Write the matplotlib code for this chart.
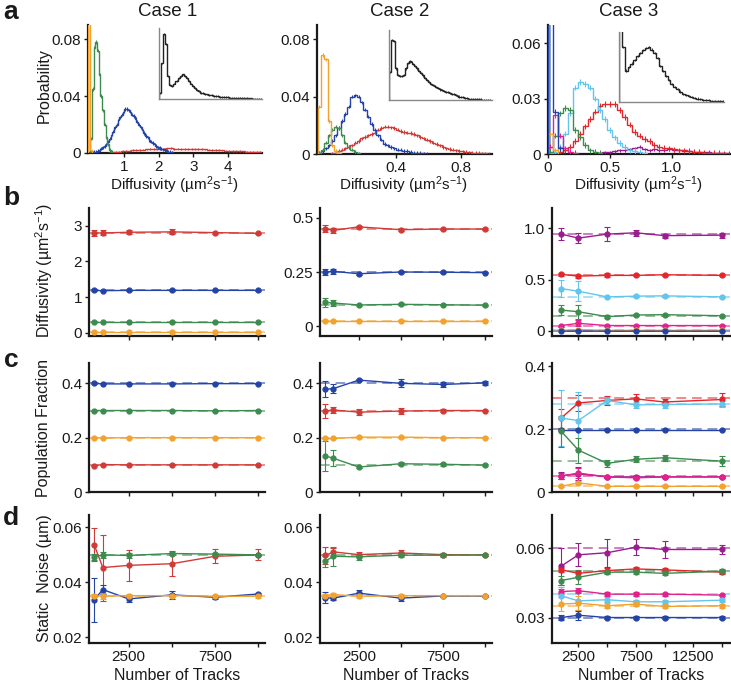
import numpy as np
import matplotlib
matplotlib.use('Agg')
import matplotlib.pyplot as plt
from matplotlib.colors import to_rgb

plt.rcParams['font.family'] = ['Liberation Sans', 'DejaVu Sans']
plt.rcParams['mathtext.fontset'] = 'custom'
plt.rcParams['mathtext.rm'] = 'Liberation Sans'
plt.rcParams['mathtext.it'] = 'Liberation Sans:italic'
plt.rcParams['mathtext.bf'] = 'Liberation Sans:bold'
plt.rcParams['mathtext.default'] = 'regular'

# ---------------- colours ----------------
COL = {'orange': '#F2A22E', 'green': '#3D8B4E', 'blue': '#2443A6', 'red': '#D13B37',
       'cyan': '#62C6EC', 'magenta': '#E2218B', 'purple': '#9B1C8F'}
COL3 = dict(COL, red='#E3262B')

# ---------------- row a: histograms ----------------
# case 1 (bin starts / widths in diffusivity units)
a1_orange_start, a1_orange_w = -0.05, 0.05
a1_orange = [0.25, 0.002]
a1_green_start, a1_green_w = 0.0, 0.05
a1_green = [0.010, 0.045, 0.074, 0.078, 0.072, 0.055, 0.040, 0.030, 0.020, 0.011, 0.006, 0.002, 0.001]
a1_blue_start, a1_blue_w = 0.0, 0.05
a1_blue = [0.0002, 0.0003, 0.0006, 0.001, 0.0015, 0.002, 0.003, 0.004, 0.005, 0.006, 0.008, 0.010,
           0.013, 0.015, 0.018, 0.020, 0.023, 0.025, 0.027, 0.029, 0.031, 0.031, 0.030, 0.029,
           0.027, 0.026, 0.024, 0.022, 0.020, 0.018, 0.016, 0.014, 0.012, 0.011, 0.009, 0.008,
           0.007, 0.006, 0.005, 0.004, 0.0035, 0.003, 0.0025, 0.002, 0.0015, 0.001, 0.0008, 0.0005]
a1_red_start, a1_red_w = 0.5, 0.1
a1_red = [0.0003, 0.0005, 0.0007, 0.001, 0.0012, 0.0015, 0.0017, 0.002, 0.002, 0.0022, 0.0024,
          0.0025, 0.0026, 0.0028, 0.0027, 0.003, 0.0028, 0.0032, 0.0035, 0.003, 0.0031, 0.0029,
          0.003, 0.0028, 0.0027, 0.0028, 0.0026, 0.0028, 0.0025, 0.0024, 0.0022, 0.0021, 0.002,
          0.0018, 0.0017, 0.0016, 0.0014, 0.0013, 0.0012, 0.0011, 0.001, 0.0009, 0.0008, 0.0008,
          0.0007, 0.0006]
a1_total_start, a1_total_w = 0.0, 0.1
a1_total = [0.10, 0.55, 1.0, 0.85, 0.35, 0.22, 0.20, 0.24, 0.28, 0.32, 0.36, 0.38, 0.36, 0.32,
            0.28, 0.24, 0.20, 0.17, 0.14, 0.12, 0.10, 0.09, 0.08, 0.07, 0.06, 0.055, 0.05, 0.045,
            0.04, 0.035, 0.03, 0.03, 0.025, 0.025, 0.02, 0.02, 0.018, 0.016, 0.014, 0.012, 0.012,
            0.01, 0.01, 0.008, 0.008, 0.007, 0.006, 0.006, 0.005, 0.005]

# case 2
a2_orange_start, a2_orange_w = -0.08, 0.02
a2_orange = [0.033, 0.069, 0.066, 0.023, 0.006, 0.002, 0.001]
a2_green_start, a2_green_w = -0.08, 0.02
a2_green = [0.001, 0.003, 0.008, 0.013, 0.017, 0.019, 0.018, 0.013, 0.008, 0.005, 0.003, 0.0015, 0.0005]
a2_blue_start, a2_blue_w = -0.08, 0.02
a2_blue = [0.001, 0.002, 0.004, 0.006, 0.009, 0.013, 0.018, 0.023, 0.028, 0.033, 0.040, 0.041,
           0.040, 0.036, 0.031, 0.026, 0.021, 0.017, 0.013, 0.010, 0.007, 0.006, 0.005, 0.004,
           0.003, 0.003, 0.002, 0.002, 0.0015, 0.001, 0.001, 0.0008, 0.0005, 0.0003]
a2_red_start, a2_red_w = 0.0, 0.02
a2_red = [0.0005, 0.001, 0.002, 0.003, 0.004, 0.005, 0.006, 0.008, 0.009, 0.011, 0.012, 0.013,
          0.014, 0.015, 0.017, 0.018, 0.019, 0.019, 0.0185, 0.018, 0.017, 0.016, 0.0155, 0.015,
          0.0145, 0.014, 0.013, 0.012, 0.011, 0.010, 0.009, 0.008, 0.007, 0.006, 0.005, 0.004,
          0.0035, 0.003, 0.0025, 0.002, 0.0018, 0.0015, 0.0012, 0.001, 0.0008, 0.0006, 0.0005,
          0.0004, 0.0003]
a2_total_start, a2_total_w = -0.08, 0.02
a2_total = [0.40, 0.86, 0.84, 0.45, 0.36, 0.34, 0.34, 0.36, 0.45, 0.53, 0.55, 0.54, 0.52, 0.48,
            0.45, 0.42, 0.38, 0.35, 0.31, 0.29, 0.26, 0.23, 0.21, 0.20, 0.18, 0.17, 0.15, 0.14,
            0.13, 0.12, 0.11, 0.10, 0.09, 0.08, 0.07, 0.06, 0.05, 0.045, 0.04, 0.03, 0.025, 0.02,
            0.015, 0.012, 0.01, 0.01, 0.008, 0.008, 0.006, 0.005, 0.005, 0.004, 0.004]

# case 3
a3_w = 0.04
a3_blue_start = 0.0
a3_blue = [0.2, 0.023, 0.003]
a3_orange_start = 0.0
a3_orange = [0.011, 0.002]
a3_magenta_start = 0.0
a3_magenta = [0.004, 0.021, 0.010, 0.003, 0.001, 0.0005]
a3_green_start = 0.0
a3_green = [0.001, 0.010, 0.022, 0.025, 0.024, 0.013, 0.009, 0.005, 0.002, 0.001, 0.0005]
a3_cyan_start = 0.0
a3_cyan = [0.0005, 0.001, 0.004, 0.011, 0.022, 0.036, 0.039, 0.038, 0.036, 0.030, 0.024, 0.019,
           0.013, 0.009, 0.006, 0.004, 0.002, 0.0015, 0.001, 0.0005]
a3_red_start = 0.0
a3_red = [0.0003, 0.0005, 0.001, 0.002, 0.004, 0.007, 0.011, 0.015, 0.019, 0.023, 0.026, 0.027,
          0.027, 0.027, 0.024, 0.020, 0.016, 0.012, 0.010, 0.008, 0.007, 0.005, 0.004, 0.0035,
          0.003, 0.0025, 0.002, 0.002, 0.0015, 0.0012, 0.001, 0.0008, 0.0006, 0.0005, 0.0004,
          0.0003, 0.0002]
a3_purple_start = 0.4
a3_purple = [0.0005, 0.001, 0.001, 0.0015, 0.002, 0.002, 0.0025, 0.003, 0.004, 0.0025, 0.002,
             0.0025, 0.002, 0.002, 0.0025, 0.002, 0.002, 0.0015, 0.0015, 0.001, 0.0012, 0.001,
             0.001, 0.0008, 0.0006, 0.0005, 0.0004]
a3_total_start = 0.0
a3_total = [1.2, 0.78, 0.45, 0.50, 0.55, 0.60, 0.66, 0.70, 0.74, 0.77, 0.79, 0.75, 0.70, 0.63,
            0.52, 0.44, 0.37, 0.31, 0.26, 0.22, 0.18, 0.15, 0.12, 0.10, 0.08, 0.07, 0.06, 0.05,
            0.04, 0.035, 0.03, 0.025, 0.02, 0.02, 0.015, 0.015, 0.01]

hist_err = [0.0012, 0.0012, 0.0015]

# ---------------- rows b-d: parameter estimates vs number of tracks ----------------
tracks_12 = [500, 1000, 2500, 5000, 7500, 10000]
tracks_3 = [1000, 2500, 5000, 7500, 10000, 15000]

# row b: diffusivity
b1_val = {'red': [2.80, 2.80, 2.82, 2.83, 2.81, 2.79], 'blue': [1.19, 1.18, 1.19, 1.19, 1.19, 1.19],
          'green': [0.30, 0.30, 0.30, 0.30, 0.30, 0.30], 'orange': [0.02, 0.02, 0.02, 0.02, 0.02, 0.02]}
b1_err = {'red': [0.08, 0.07, 0.05, 0.07, 0.03, 0.02], 'blue': [0.03, 0.02, 0.01, 0.01, 0.01, 0.01],
          'green': [0.01, 0.01, 0.01, 0.01, 0.01, 0.01], 'orange': [0.005, 0.005, 0.005, 0.005, 0.005, 0.005]}
b1_true = {'red': 2.8, 'blue': 1.2, 'green': 0.3, 'orange': 0.02}

b2_val = {'red': [0.450, 0.442, 0.458, 0.445, 0.448, 0.448], 'blue': [0.250, 0.253, 0.242, 0.250, 0.249, 0.247],
          'green': [0.110, 0.107, 0.098, 0.101, 0.099, 0.097], 'orange': [0.025, 0.025, 0.025, 0.025, 0.025, 0.025]}
b2_err = {'red': [0.015, 0.010, 0.006, 0.004, 0.004, 0.003], 'blue': [0.015, 0.010, 0.005, 0.004, 0.004, 0.003],
          'green': [0.020, 0.012, 0.005, 0.004, 0.003, 0.003], 'orange': [0.003, 0.003, 0.003, 0.003, 0.003, 0.003]}
b2_true = {'red': 0.45, 'blue': 0.25, 'green': 0.1, 'orange': 0.025}

b3_val = {'purple': [0.945, 0.906, 0.945, 0.958, 0.930, 0.935], 'red': [0.552, 0.535, 0.542, 0.542, 0.548, 0.542],
          'cyan': [0.413, 0.387, 0.332, 0.339, 0.342, 0.332], 'green': [0.203, 0.187, 0.139, 0.155, 0.158, 0.148],
          'magenta': [0.052, 0.074, 0.052, 0.052, 0.052, 0.052], 'orange': [0.005, 0.012, 0.005, 0.005, 0.005, 0.005],
          'blue': [-0.003, -0.002, -0.003, -0.003, -0.003, -0.003]}
b3_err = {'purple': [0.06, 0.05, 0.07, 0.03, 0.02, 0.025], 'red': [0.015, 0.015, 0.02, 0.01, 0.01, 0.01],
          'cyan': [0.08, 0.10, 0.012, 0.01, 0.01, 0.01], 'green': [0.05, 0.07, 0.012, 0.01, 0.008, 0.008],
          'magenta': [0.01, 0.03, 0.005, 0.005, 0.004, 0.004], 'orange': [0.003, 0.01, 0.003, 0.003, 0.003, 0.003],
          'blue': [0.003, 0.003, 0.002, 0.002, 0.002, 0.002]}
b3_true = {'purple': 0.95, 'red': 0.55, 'cyan': 0.33, 'green': 0.15, 'magenta': 0.05, 'orange': 0.01, 'blue': 0.0}

# row c: population fraction
c1_val = {'blue': [0.400, 0.398, 0.398, 0.398, 0.399, 0.399], 'green': [0.300, 0.300, 0.300, 0.300, 0.299, 0.300],
          'orange': [0.200, 0.199, 0.200, 0.200, 0.200, 0.200], 'red': [0.097, 0.101, 0.100, 0.100, 0.100, 0.100]}
c1_err = {'blue': [0.002, 0.002, 0.002, 0.001, 0.001, 0.001], 'green': [0.002, 0.002, 0.002, 0.001, 0.001, 0.001],
          'orange': [0.002, 0.002, 0.002, 0.001, 0.001, 0.001], 'red': [0.002, 0.002, 0.002, 0.001, 0.001, 0.001]}
c1_true = {'blue': 0.4, 'green': 0.3, 'orange': 0.2, 'red': 0.1}

c2_val = {'blue': [0.378, 0.381, 0.412, 0.400, 0.396, 0.402], 'red': [0.298, 0.302, 0.294, 0.298, 0.300, 0.300],
          'orange': [0.197, 0.197, 0.202, 0.202, 0.200, 0.200], 'green': [0.133, 0.124, 0.092, 0.104, 0.102, 0.099]}
c2_err = {'blue': [0.030, 0.015, 0.003, 0.015, 0.010, 0.008], 'red': [0.025, 0.012, 0.010, 0.010, 0.004, 0.003],
          'orange': [0.003, 0.002, 0.002, 0.002, 0.002, 0.002], 'green': [0.055, 0.030, 0.004, 0.005, 0.005, 0.004]}
c2_true = {'blue': 0.4, 'red': 0.3, 'orange': 0.2, 'green': 0.1}

c3_val = {'red': [0.235, 0.283, 0.291, 0.296, 0.286, 0.294], 'cyan': [0.235, 0.227, 0.291, 0.277, 0.278, 0.280],
          'blue': [0.198, 0.198, 0.198, 0.198, 0.198, 0.198], 'green': [0.193, 0.133, 0.091, 0.104, 0.109, 0.098],
          'purple': [0.052, 0.058, 0.048, 0.048, 0.048, 0.048], 'magenta': [0.050, 0.060, 0.048, 0.045, 0.048, 0.048],
          'orange': [0.018, 0.029, 0.018, 0.018, 0.018, 0.018]}
c3_err = {'red': [0.030, 0.025, 0.015, 0.015, 0.010, 0.020], 'cyan': [0.090, 0.090, 0.010, 0.010, 0.010, 0.010],
          'blue': [0.002, 0.002, 0.001, 0.001, 0.001, 0.001], 'green': [0.050, 0.040, 0.010, 0.010, 0.010, 0.015],
          'purple': [0.012, 0.020, 0.004, 0.004, 0.004, 0.004], 'magenta': [0.010, 0.015, 0.004, 0.004, 0.004, 0.004],
          'orange': [0.003, 0.005, 0.002, 0.002, 0.002, 0.002]}
c3_true = {'red': 0.3, 'cyan': 0.28, 'blue': 0.2, 'green': 0.1, 'purple': 0.05, 'magenta': 0.05, 'orange': 0.02}

# row d: static noise
d1_val = {'red': [0.0537, 0.0454, 0.0462, 0.0468, 0.0495, 0.0500], 'green': [0.0493, 0.0500, 0.0498, 0.0505, 0.0503, 0.0500],
          'blue': [0.0337, 0.0374, 0.0340, 0.0355, 0.0346, 0.0358], 'orange': [0.0352, 0.0350, 0.0352, 0.0352, 0.0350, 0.0350]}
d1_err = {'red': [0.0060, 0.0120, 0.0055, 0.0045, 0.0025, 0.0020], 'green': [0.0010, 0.0010, 0.0008, 0.0006, 0.0005, 0.0005],
          'blue': [0.0080, 0.0015, 0.0010, 0.0015, 0.0005, 0.0005], 'orange': [0.0005, 0.0010, 0.0005, 0.0005, 0.0005, 0.0005]}
d1_true = {'red': 0.05, 'green': 0.05, 'blue': 0.035, 'orange': 0.035}

d2_val = {'red': [0.0498, 0.0511, 0.0501, 0.0507, 0.0501, 0.0500], 'green': [0.0477, 0.0495, 0.0493, 0.0499, 0.0499, 0.0500],
          'blue': [0.0344, 0.0343, 0.0361, 0.0343, 0.0351, 0.0351], 'orange': [0.0352, 0.0356, 0.0350, 0.0352, 0.0352, 0.0352]}
d2_err = {'red': [0.0030, 0.0015, 0.0010, 0.0010, 0.0005, 0.0005], 'green': [0.0020, 0.0035, 0.0010, 0.0007, 0.0005, 0.0005],
          'blue': [0.0020, 0.0005, 0.0010, 0.0010, 0.0003, 0.0003], 'orange': [0.0005, 0.0005, 0.0005, 0.0005, 0.0003, 0.0003]}
d2_true = {'red': 0.05, 'green': 0.05, 'blue': 0.035, 'orange': 0.035}

d3_val = {'purple': [0.0522, 0.0571, 0.0580, 0.0604, 0.0594, 0.0594], 'red': [0.0506, 0.0491, 0.0503, 0.0510, 0.0506, 0.0496],
          'green': [0.0460, 0.0474, 0.0496, 0.0496, 0.0491, 0.0500], 'magenta': [0.0412, 0.0416, 0.0401, 0.0401, 0.0401, 0.0397],
          'cyan': [0.0394, 0.0372, 0.0377, 0.0368, 0.0368, 0.0375], 'orange': [0.0358, 0.0362, 0.0351, 0.0358, 0.0348, 0.0351],
          'blue': [0.0300, 0.0310, 0.0300, 0.0300, 0.0300, 0.0300]}
d3_err = {'purple': [0.0080, 0.0050, 0.0060, 0.0035, 0.0035, 0.0020], 'red': [0.0010, 0.0010, 0.0010, 0.0008, 0.0008, 0.0008],
          'green': [0.0020, 0.0030, 0.0010, 0.0008, 0.0008, 0.0008], 'magenta': [0.0010, 0.0010, 0.0008, 0.0008, 0.0006, 0.0006],
          'cyan': [0.0040, 0.0040, 0.0010, 0.0008, 0.0008, 0.0008], 'orange': [0.0030, 0.0030, 0.0010, 0.0008, 0.0008, 0.0008],
          'blue': [0.0010, 0.0020, 0.0005, 0.0005, 0.0005, 0.0005]}
d3_true = {'purple': 0.06, 'red': 0.05, 'green': 0.05, 'magenta': 0.04, 'cyan': 0.04, 'orange': 0.035, 'blue': 0.03}

# ---------------- figure ----------------
W, H = 731, 684
fig = plt.figure(figsize=(W / 100, H / 100), dpi=100)


def add_ax(x0, y0, x1, y1):
    return fig.add_axes([x0 / W, 1 - y1 / H, (x1 - x0) / W, (y1 - y0) / H])


def style(ax):
    for s in ('top', 'right'):
        ax.spines[s].set_visible(False)
    for s in ('left', 'bottom'):
        ax.spines[s].set_linewidth(1.6)
        ax.spines[s].set_color('#1a1a1a')
    ax.tick_params(direction='out', length=3, width=1, labelsize=11, colors='#1a1a1a', pad=2)
    ax.set_facecolor('none')


def lighten(c, f=0.45):
    r, g, b = to_rgb(c)
    return (r + (1 - r) * f, g + (1 - g) * f, b + (1 - b) * f)


def draw_hist(ax, start, width, vals, color, err):
    v = np.asarray(vals, dtype=float)
    edges = start + width * np.arange(len(v) + 1)
    ax.stairs(v, edges, color=color, lw=1.0, zorder=3)
    centers = 0.5 * (edges[:-1] + edges[1:])
    ax.errorbar(centers, v, yerr=err, fmt='none', ecolor=color, elinewidth=0.8, capsize=0, zorder=3)


def draw_inset(x0, y0, x1, y1, start, width, vals, xlim, ylim):
    ia = add_ax(x0, y0, x1, y1)
    v = np.asarray(vals, dtype=float)
    edges = start + width * np.arange(len(v) + 1)
    ia.stairs(v, edges, color='#222222', lw=1.0)
    centers = 0.5 * (edges[:-1] + edges[1:])
    ia.errorbar(centers, v, yerr=0.015, fmt='none', ecolor='#222222', elinewidth=0.6)
    ia.set_xlim(*xlim)
    ia.set_ylim(*ylim)
    for s in ('top', 'right'):
        ia.spines[s].set_visible(False)
    for s in ('left', 'bottom'):
        ia.spines[s].set_color('#888888')
        ia.spines[s].set_linewidth(1.0)
    ia.set_xticks([])
    ia.set_yticks([])
    ia.set_facecolor('none')
    return ia


# ---- row a ----
ax = add_ax(88, 25, 262, 153)
style(ax)
draw_hist(ax, a1_red_start, a1_red_w, a1_red, COL['red'], hist_err[0] * 0.5)
draw_hist(ax, a1_blue_start, a1_blue_w, a1_blue, COL['blue'], hist_err[0])
draw_hist(ax, a1_green_start, a1_green_w, a1_green, COL['green'], hist_err[0])
draw_hist(ax, a1_orange_start, a1_orange_w, a1_orange, COL['orange'], 0)
ax.set_xlim(-0.06, 5.0)
ax.set_ylim(0, 0.09)
ax.set_xticks([1, 2, 3, 4])
ax.set_yticks([0, 0.04, 0.08])
ax.set_yticklabels(['0', '0.04', '0.08'])
draw_inset(159, 28, 262, 99, a1_total_start, a1_total_w, a1_total, (0, 5.0), (0, 1.1))

ax = add_ax(317, 25, 492, 154)
style(ax)
draw_hist(ax, a2_red_start, a2_red_w, a2_red, COL['red'], hist_err[1])
draw_hist(ax, a2_blue_start, a2_blue_w, a2_blue, COL['blue'], hist_err[1])
draw_hist(ax, a2_green_start, a2_green_w, a2_green, COL['green'], hist_err[1])
draw_hist(ax, a2_orange_start, a2_orange_w, a2_orange, COL['orange'], hist_err[1])
ax.set_xlim(-0.085, 0.99)
ax.set_ylim(0, 0.09)
ax.set_xticks([0.4, 0.8])
ax.set_yticks([0, 0.04, 0.08])
ax.set_yticklabels(['0', '0.04', '0.08'])
draw_inset(389, 30, 492, 100, a2_total_start, a2_total_w, a2_total, (-0.085, 0.99), (0, 1.0))

ax = add_ax(548, 25, 730, 154)
style(ax)
draw_hist(ax, a3_purple_start, a3_w, a3_purple, COL3['purple'], hist_err[2] * 0.5)
draw_hist(ax, a3_red_start, a3_w, a3_red, COL3['red'], hist_err[2])
draw_hist(ax, a3_cyan_start, a3_w, a3_cyan, COL3['cyan'], hist_err[2])
draw_hist(ax, a3_green_start, a3_w, a3_green, COL3['green'], hist_err[2])
draw_hist(ax, a3_magenta_start, a3_w, a3_magenta, COL3['magenta'], hist_err[2])
draw_hist(ax, a3_orange_start, a3_w, a3_orange, COL3['orange'], hist_err[2])
draw_hist(ax, a3_blue_start, a3_w, a3_blue, COL3['blue'], hist_err[2])
ax.fill_between([0, a3_w * 0.6], 0, 0.2, color='#8FA6CF', lw=0, zorder=2)
ax.set_xlim(0, 1.47)
ax.set_ylim(0, 0.07)
ax.set_xticks([0, 0.5, 1.0])
ax.set_xticklabels(['0', '0.5', '1.0'])
ax.set_yticks([0, 0.03, 0.06])
ax.set_yticklabels(['0', '0.03', '0.06'])
draw_inset(619, 32, 724, 102, a3_total_start, a3_w, a3_total, (0, 1.47), (0, 1.0))


# ---- rows b-d ----
def line_panel(box, x, vals, errs, truths, cols, xlim, ylim, yticks, ylabels, xticks, xlabels):
    ax = add_ax(*box)
    style(ax)
    for name in vals:
        ax.axhline(truths[name], color=lighten(cols[name]), ls=(0, (5, 3)), lw=1.4, zorder=1)
    for name in vals:
        ax.errorbar(x, vals[name], yerr=errs[name], color=cols[name], marker='o', ms=3.5,
                    lw=1.0, elinewidth=0.8, capsize=2, capthick=0.8, zorder=3)
    ax.set_xlim(*xlim)
    ax.set_ylim(*ylim)
    ax.set_yticks(yticks)
    ax.set_yticklabels(ylabels)
    ax.set_xticks(xticks)
    ax.set_xticklabels(xlabels)
    return ax


xt12 = [2500, 5000, 7500, 10000]
xt3 = [2500, 5000, 7500, 10000, 12500, 15000]
blank12 = [''] * 4
blank3 = [''] * 6
lab12 = ['2500', '', '7500', '']
lab3 = ['2500', '', '7500', '', '12500', '']
xl12 = (200, 10400)
xl3 = (200, 15700)

line_panel((89, 208, 265, 336), tracks_12, b1_val, b1_err, b1_true, COL, xl12, (-0.09, 3.5),
           [0, 1, 2, 3], ['0', '1', '2', '3'], xt12, blank12)
line_panel((320, 208, 492, 336), tracks_12, b2_val, b2_err, b2_true, COL, xl12, (-0.045, 0.545),
           [0, 0.25, 0.5], ['0', '0.25', '0.5'], xt12, blank12)
line_panel((552, 208, 730, 336), tracks_3, b3_val, b3_err, b3_true, COL3, xl3, (-0.05, 1.2),
           [0, 0.5, 1.0], ['0', '0.5', '1.0'], xt3, blank3)

line_panel((89, 363, 265, 492), tracks_12, c1_val, c1_err, c1_true, COL, xl12, (0, 0.475),
           [0, 0.2, 0.4], ['0', '0.2', '0.4'], xt12, blank12)
line_panel((320, 363, 492, 492), tracks_12, c2_val, c2_err, c2_true, COL, xl12, (0, 0.475),
           [0, 0.2, 0.4], ['0', '0.2', '0.4'], xt12, blank12)
line_panel((552, 363, 730, 492), tracks_3, c3_val, c3_err, c3_true, COL3, xl3, (0, 0.41),
           [0, 0.2, 0.4], ['0', '0.2', '0.4'], xt3, blank3)

line_panel((89, 515, 265, 643), tracks_12, d1_val, d1_err, d1_true, COL, xl12, (0.018, 0.0645),
           [0.02, 0.04, 0.06], ['0.02', '0.04', '0.06'], xt12, lab12)
line_panel((320, 515, 492, 643), tracks_12, d2_val, d2_err, d2_true, COL, xl12, (0.018, 0.0645),
           [0.02, 0.04, 0.06], ['0.02', '0.04', '0.06'], xt12, lab12)
line_panel((552, 515, 730, 643), tracks_3, d3_val, d3_err, d3_true, COL3, xl3, (0.019, 0.0743),
           [0.03, 0.06], ['0.03', '0.06'], xt3, lab3)

# ---- text ----
tc = '#1a1a1a'
for xc, t in [(168, 'Case 1'), (400, 'Case 2'), (629, 'Case 3')]:
    fig.text(xc / W, 1 - 12 / H, t, ha='center', va='center', fontsize=13.5, color=tc)
for yc, t in [(12, 'a'), (198, 'b'), (360, 'c'), (518, 'd')]:
    fig.text(11 / W, 1 - yc / H, t, ha='center', va='center', fontsize=19, fontweight='bold', color=tc)

dlab = 'Diffusivity (µm$^{2}$s$^{-1}$)'
for xc in (175, 404, 639):
    fig.text(xc / W, 1 - 185 / H, dlab, ha='center', va='center', fontsize=11, color=tc)
for xc in (177, 406, 641):
    fig.text(xc / W, 1 - 675 / H, 'Number of Tracks', ha='center', va='center', fontsize=11.5, color=tc)

for yc, t in [(86, 'Probability'), (270, dlab), (428, 'Population Fraction'), (578, 'Static  Noise (µm)')]:
    fig.text(44 / W, 1 - yc / H, t, ha='center', va='center', rotation=90, fontsize=11.5, color=tc)

fig.savefig('out.png', dpi=100)
